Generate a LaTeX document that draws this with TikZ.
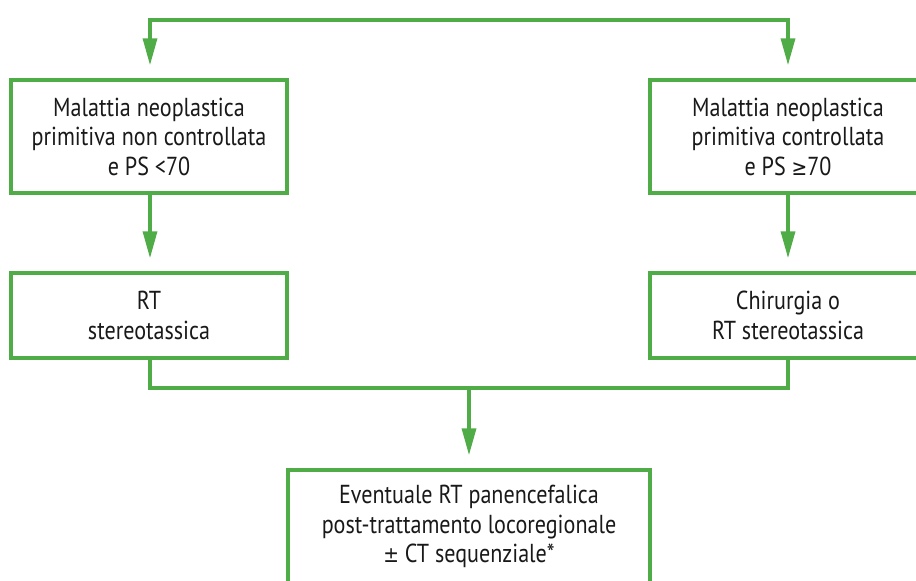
\documentclass[tikz,border=0pt]{standalone}
\usepackage{fontspec}
\setmainfont{PT Sans}[FakeStretch=0.85]
\newfontfamily\symfont{DejaVu Sans}[FakeStretch=0.85]
\usetikzlibrary{arrows.meta}
\definecolor{flowgreen}{RGB}{80,172,70}
\definecolor{inkgray}{RGB}{25,25,25}
\newcommand{\geqsym}{{\symfont\fontsize{22}{29}\selectfont ≥}}
\newcommand{\pmsym}{{\symfont\fontsize{22}{29}\selectfont ±}}
\tikzset{
  flowbox/.style={draw=flowgreen, line width=3.5pt, fill=white, align=center,
    minimum width=276pt, minimum height=113pt, inner sep=0pt,
    text=inkgray, font=\fontsize{26}{29.5}\selectfont},
  lowbox/.style={flowbox, minimum height=85pt},
  link/.style={draw=flowgreen, line width=3.5pt},
  flowarrow/.style={link, -{Triangle[length=27pt,width=14pt]}, shorten >=13pt}
}
\begin{document}
\begin{tikzpicture}[x=1pt,y=-1pt]
  \useasboundingbox (0,0) rectangle (916,581);
  \begin{scope}
    \clip (0,0) rectangle (916,581);
    % condition boxes
    \node[flowbox] (L1) at (149,136.5) {Malattia neoplastica\\primitiva non controllata\\e PS <70};
    \node[flowbox] (R1) at (788,136.5) {Malattia neoplastica\\primitiva controllata\\e PS \geqsym70};
    % treatment boxes
    \node[lowbox] (L2) at (149,315.5) {RT\\stereotassica};
    \node[lowbox] (R2) at (788,315.5) {Chirurgia o\\RT stereotassica};
    % final box
    \node[flowbox, minimum width=362pt] (F) at (469,526.5) {Eventuale RT panencefalica\\post-trattamento locoregionale\\\pmsym{} CT sequenziale*};
    % split at the top
    \coordinate (topL) at (150,20);
    \coordinate (topR) at (788,20);
    \draw[link, line cap=rect] (topL) -- (topR);
    \draw[flowarrow] (topL) -- (L1.north -| topL);
    \draw[flowarrow] (topR) -- (R1.north -| topR);
    % down to the treatments
    \draw[flowarrow] (L1.south -| topL) -- (L2.north -| topL);
    \draw[flowarrow] (R1.south -| topR) -- (R2.north -| topR);
    % merge into the final box
    \coordinate (mergeL) at (150,388);
    \coordinate (mergeR) at (788,388);
    \coordinate (mergeC) at (469,388);
    \draw[link, line join=miter] (L2.south -| mergeL) -- (mergeL) -- (mergeR) -- (R2.south -| mergeR);
    \draw[flowarrow] (mergeC) -- (F.north);
  \end{scope}
\end{tikzpicture}
\end{document}
